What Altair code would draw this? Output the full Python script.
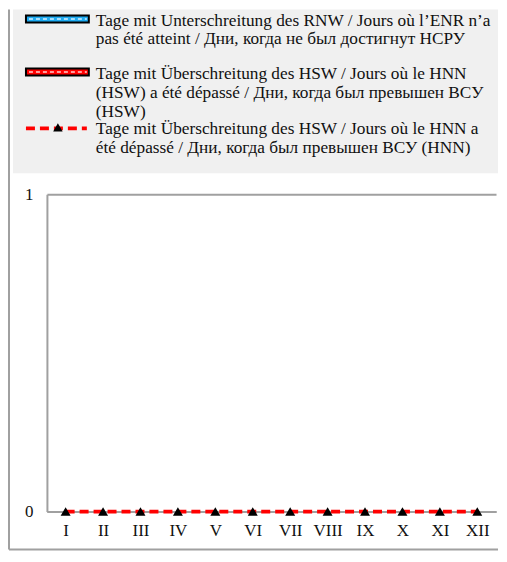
import altair as alt
import pandas as pd

months = ["I", "II", "III", "IV", "V", "VI", "VII", "VIII", "IX", "X", "XI", "XII"]
hnn_days = [0, 0, 0, 0, 0, 0, 0, 0, 0, 0, 0, 0]

legend_texts = [
    ["Tage mit Unterschreitung des RNW / Jours où l’ENR n’a",
     "pas été atteint / Дни, когда не был достигнут НСРУ"],
    ["Tage mit Überschreitung des HSW / Jours où le HNN",
     "(HSW) a été dépassé / Дни, когда был превышен ВСУ",
     "(HSW)"],
    ["Tage mit Überschreitung des HSW / Jours où le HNN a",
     "été dépassé / Дни, когда был превышен ВСУ (HNN)"],
]

df = pd.DataFrame({"month": months, "value": hnn_days})
one = pd.DataFrame({"k": [0]})

FONT = "Liberation Serif"
GRAY = "#a0a0a0"
W, H = 450, 318

x_enc = alt.X("month:N", sort=months, title=None,
              scale=alt.Scale(type="point", padding=0.5),
              axis=alt.Axis(labelAngle=0, ticks=False, domain=True, domainColor=GRAY,
                            domainWidth=2, labelFont=FONT, labelFontSize=17,
                            labelColor="#111", labelPadding=11, grid=False))
y_enc = alt.Y("value:Q", title=None, scale=alt.Scale(domain=[0, 1], nice=False),
              axis=alt.Axis(values=[0, 1], format="d", ticks=False, domainColor=GRAY,
                            domainWidth=2, grid=True, gridColor=GRAY, gridWidth=2,
                            labelFont=FONT, labelFontSize=17, labelColor="#111",
                            labelPadding=14))

base = alt.Chart(df).encode(x=x_enc, y=y_enc)
line = base.mark_line(color="#ff0000", strokeWidth=3.8, strokeDash=[9, 5])
pts = base.mark_point(shape="triangle-up", filled=True, color="black", opacity=1, size=100)

# frame (left and bottom border)
frame_left = alt.Chart(one).mark_rule(color=GRAY, strokeWidth=2).encode(
    x=alt.value(-38), y=alt.value(-185), y2=alt.value(356))
frame_bottom = alt.Chart(one).mark_rule(color=GRAY, strokeWidth=2).encode(
    x=alt.value(-38), x2=alt.value(452), y=alt.value(356))

# legend box
leg_bg = alt.Chart(one).mark_rect(color="#f0f0f0").encode(
    x=alt.value(-34), x2=alt.value(452), y=alt.value(-185), y2=alt.value(-21))

# legend symbol 1 (blue)
sym1 = alt.Chart(one).mark_rect(color="#1eaaf0", stroke="black", strokeWidth=2).encode(
    x=alt.value(-21), x2=alt.value(42), y=alt.value(-179), y2=alt.value(-172))
sym1w = alt.Chart(one).mark_rule(color="#d8f0ff", strokeWidth=1.5, strokeDash=[4, 3]).encode(
    x=alt.value(-18), x2=alt.value(40), y=alt.value(-175.5))
# legend symbol 2 (red)
sym2 = alt.Chart(one).mark_rect(color="#ff0000", stroke="black", strokeWidth=2).encode(
    x=alt.value(-21), x2=alt.value(42), y=alt.value(-126), y2=alt.value(-119))
sym2w = alt.Chart(one).mark_rule(color="#ffd0d0", strokeWidth=1.5, strokeDash=[4, 3]).encode(
    x=alt.value(-18), x2=alt.value(40), y=alt.value(-122.5))
# legend symbol 3 (dashed line + triangle)
sym3 = alt.Chart(one).mark_rule(color="#ff0000", strokeWidth=3.8, strokeDash=[9, 5]).encode(
    x=alt.value(-21), x2=alt.value(40), y=alt.value(-66))
sym3p = alt.Chart(one).mark_point(shape="triangle-up", filled=True, color="black",
                                  opacity=1, size=90).encode(
    x=alt.value(11), y=alt.value(-67))


def leg_text(lines, y):
    return alt.Chart(one).mark_text(align="left", baseline="alphabetic", font=FONT,
                                    fontSize=17.3, lineHeight=19, color="#111").encode(
        x=alt.value(49), y=alt.value(y), text=alt.value(lines))


t1 = leg_text(legend_texts[0], -169)
t2 = leg_text(legend_texts[1], -115)
t3 = leg_text(legend_texts[2], -60)

chart = alt.layer(
    line, pts, frame_left, frame_bottom, leg_bg, sym1, sym1w, sym2, sym2w, sym3, sym3p,
    t1, t2, t3
).properties(width=W, height=H, padding=0, background="white").configure_view(
    stroke="transparent", strokeWidth=0)

chart.save("out.html", embed_options={"renderer": "svg", "actions": False})
